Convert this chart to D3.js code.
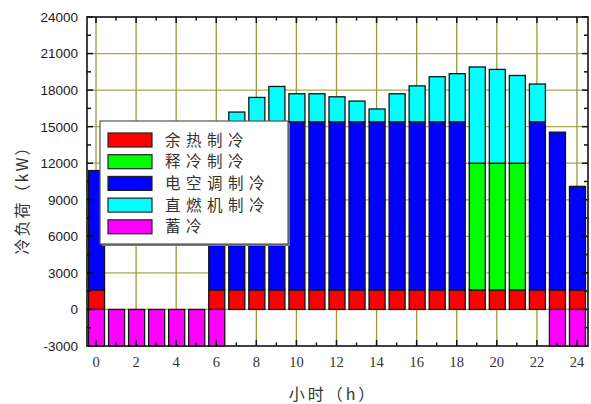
<!DOCTYPE html>
<html>
<head>
<meta charset="utf-8">
<script src="https://cdn.jsdelivr.net/npm/d3@7"></script>
<style>
  html, body { margin: 0; padding: 0; background: #fff; }
  svg { display: block; }
</style>
</head>
<body>
<svg id="chart" width="591" height="404"></svg>
<script>
// Hourly cooling supply by source (kW), hours 0..24
const hours = d3.range(0, 25);
const wasteHeat = [1600, 0, 0, 0, 0, 0, 1600, 1600, 1600, 1600, 1600, 1600, 1600, 1600, 1600, 1600, 1600, 1600, 1600, 1600, 1600, 1600, 1600, 1600, 1600];
const iceRelease = [0, 0, 0, 0, 0, 0, 0, 0, 0, 0, 0, 0, 0, 0, 0, 0, 0, 0, 0, 10400, 10400, 10400, 0, 0, 0];
const electricChiller = [9800, 0, 0, 0, 0, 0, 13800, 13800, 13800, 13800, 13800, 13800, 13800, 13800, 13800, 13800, 13800, 13800, 13800, 0, 0, 0, 13800, 12950, 8500];
const directFired = [0, 0, 0, 0, 0, 0, 0, 800, 2000, 2900, 2300, 2300, 2050, 1700, 1050, 2300, 2950, 3700, 3950, 7900, 7700, 7200, 3100, 0, 0];
const storage = [-3000, -3000, -3000, -3000, -3000, -3000, -3000, 0, 0, 0, 0, 0, 0, 0, 0, 0, 0, 0, 0, 0, 0, 0, 0, -3000, -3000];

const seriesNames = ["余热制冷", "释冷制冷", "电空调制冷", "直燃机制冷", "蓄冷"];
const seriesColors = ["#ff0000", "#00ff00", "#0000ff", "#00ffff", "#ff00ff"];
const seriesData = [wasteHeat, iceRelease, electricChiller, directFired, storage];

const yTicks = [-3000, 0, 3000, 6000, 9000, 12000, 15000, 18000, 21000, 24000];
const xTicks = [0, 2, 4, 6, 8, 10, 12, 14, 16, 18, 20, 22, 24];
const xTitle = "小时（h）";
const yTitle = "冷负荷（kW）";

const svg = d3.select("#chart");
const plotL = 87, plotR = 588, plotT = 17, plotB = 346;

const x = d3.scaleLinear().domain([-0.45, 24.55]).range([plotL, plotR]);
const y = d3.scaleLinear().domain([-3000, 24000]).range([plotB, plotT]);

const rows = hours.map((h, i) => {
  const r = { hour: h };
  seriesNames.forEach((k, j) => { r[k] = seriesData[j][i]; });
  return r;
});
const stacked = d3.stack().keys(seriesNames).offset(d3.stackOffsetDiverging)(rows);

const grid = svg.append("g");
// horizontal grid
grid.selectAll("line.h").data(yTicks.filter(v => v > -3000 && v < 24000)).join("line")
  .attr("x1", plotL).attr("x2", plotR)
  .attr("y1", d => y(d)).attr("y2", d => y(d))
  .attr("stroke", "#a8a855").attr("stroke-width", 1.3);
// vertical grid
grid.selectAll("line.v").data(xTicks).join("line")
  .attr("y1", plotT).attr("y2", plotB)
  .attr("x1", d => x(d)).attr("x2", d => x(d))
  .attr("stroke", "#9a9a3a").attr("stroke-width", 1.3);

// bars
const barW = x(0.8) - x(0);
const bars = svg.append("g");
stacked.forEach((layer, j) => {
  bars.append("g").selectAll("rect")
    .data(layer.filter(d => d[1] !== d[0]))
    .join("rect")
    .attr("x", d => x(d.data.hour) - barW / 2 + 0.5)
    .attr("width", barW)
    .attr("y", d => y(Math.max(d[0], d[1])))
    .attr("height", d => Math.abs(y(d[0]) - y(d[1])))
    .attr("fill", seriesColors[j])
    .attr("stroke", "#141414")
    .attr("stroke-width", 1.3);
});

// axes with inward ticks
const minorX = d3.range(0, 25);
const minorY = d3.range(-3000, 24001, 1500);
const axes = svg.append("g").attr("stroke", "#111").attr("stroke-width", 1.5);
axes.selectAll("line.bt").data(minorX).join("line")
  .attr("x1", d => x(d)).attr("x2", d => x(d))
  .attr("y1", plotB).attr("y2", d => plotB - (d % 2 === 0 ? 6 : 3.5));
axes.selectAll("line.tt").data(minorX).join("line")
  .attr("x1", d => x(d)).attr("x2", d => x(d))
  .attr("y1", plotT).attr("y2", d => plotT + (d % 2 === 0 ? 6 : 3.5));
axes.selectAll("line.lt").data(minorY).join("line")
  .attr("y1", d => y(d)).attr("y2", d => y(d))
  .attr("x1", plotL).attr("x2", d => plotL + (d % 3000 === 0 ? 6 : 4));
axes.selectAll("line.rt").data(minorY).join("line")
  .attr("y1", d => y(d)).attr("y2", d => y(d))
  .attr("x1", plotR).attr("x2", d => plotR - (d % 3000 === 0 ? 6 : 4));
svg.append("rect")
  .attr("x", plotL).attr("y", plotT)
  .attr("width", plotR - plotL).attr("height", plotB - plotT)
  .attr("fill", "none").attr("stroke", "#111").attr("stroke-width", 1.6);

// tick labels
svg.append("g").selectAll("text").data(yTicks).join("text")
  .attr("x", 78).attr("y", d => y(d))
  .attr("dy", "0.36em")
  .attr("text-anchor", "end")
  .attr("font-family", "Liberation Sans, Arial, sans-serif")
  .attr("font-size", 13.5)
  .attr("fill", "#1a1a1a")
  .text(d => d);
svg.append("g").selectAll("text").data(xTicks).join("text")
  .attr("x", d => x(d)).attr("y", 367)
  .attr("text-anchor", "middle")
  .attr("font-family", "Liberation Serif, Times New Roman, serif")
  .attr("font-size", 14.5)
  .attr("fill", "#333")
  .text(d => d);

// axis titles
svg.append("text")
  .attr("x", 333).attr("y", 400)
  .attr("text-anchor", "middle")
  .attr("font-family", "Noto Sans CJK SC, sans-serif")
  .attr("font-size", 16)
  .attr("letter-spacing", 3)
  .attr("fill", "#333")
  .text(xTitle);
svg.append("text")
  .attr("transform", "translate(28,196) rotate(-90)")
  .attr("text-anchor", "middle")
  .attr("font-family", "Noto Sans CJK SC, sans-serif")
  .attr("font-size", 16)
  .attr("letter-spacing", 2)
  .attr("fill", "#333")
  .text(yTitle);

// legend
const lg = svg.append("g");
lg.append("rect").attr("x", 102).attr("y", 123).attr("width", 188).attr("height", 123)
  .attr("fill", "#777");
lg.append("rect").attr("x", 100).attr("y", 121).attr("width", 188).attr("height", 123)
  .attr("fill", "#fff").attr("stroke", "#555").attr("stroke-width", 1.2);
seriesNames.forEach((name, i) => {
  const ry = 133 + i * 21.7;
  lg.append("rect").attr("x", 108).attr("y", ry).attr("width", 44).attr("height", 14)
    .attr("fill", seriesColors[i]).attr("stroke", "#222").attr("stroke-width", 1.2);
  lg.append("text").attr("x", 165).attr("y", ry + 7).attr("dy", "0.36em")
    .attr("font-family", "Noto Sans CJK SC, sans-serif")
    .attr("font-size", 15.5)
    .attr("letter-spacing", 5.5)
    .attr("fill", "#333")
    .text(name);
});
</script>
</body>
</html>
